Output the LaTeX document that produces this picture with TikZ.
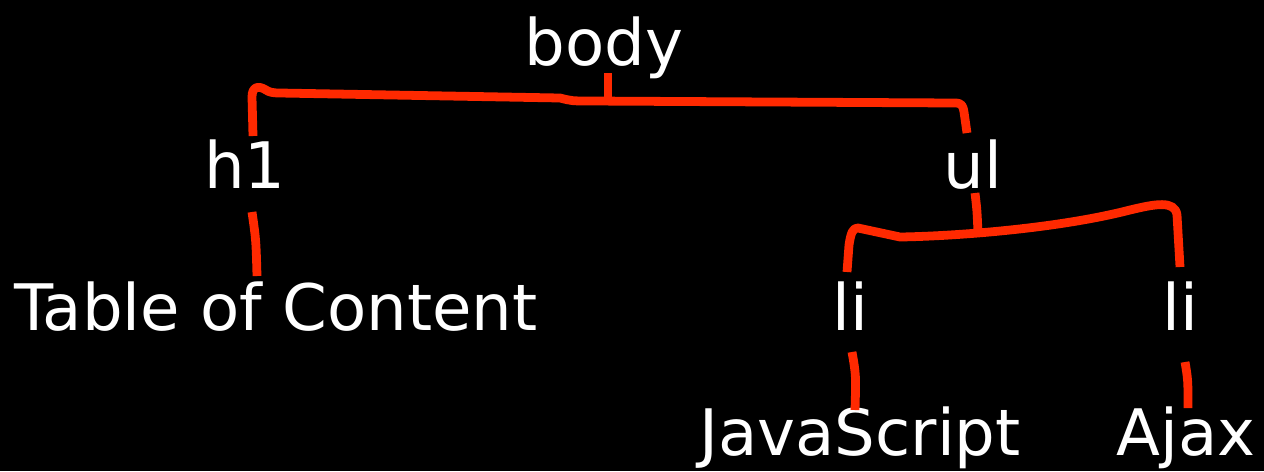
\documentclass[tikz,border=0pt]{standalone}
\usepackage{fontspec}
\setmainfont{DejaVu Sans}
\definecolor{brace}{rgb}{1,0.16,0}

\begin{document}
\begin{tikzpicture}[x=0.02cm, y=-0.02cm,
    tag/.style={text=white, inner sep=0pt, anchor=base, font=\fontsize{36.5}{44}\selectfont},
    wire/.style={brace, line width=5pt, line join=round}]
            \fill[black] (0,0) rectangle (1264,471);

            \node[tag] (body) at (604,65) {body};
            \node[tag] (hone) at (245,188) {h1};
            \node[tag] (ul) at (973,188) {ul};
            \node[tag] (toc) at (276,330) {Table of Content};
            \node[tag] (lileft) at (850,330) {li};
            \node[tag] (liright) at (1180,330) {li};
            \node[tag] (js) at (860,455) {JavaScript};
            \node[tag] (ajax) at (1186,455) {Ajax};

            \draw[wire] ([shift={(8,-52)}]hone.base) -- (252,97) .. controls (252,87) and (258,85) .. (266,90)
                .. controls (269,92) and (272,93) .. (280,93) -- (560,98) .. controls (572,101) .. (590,101)
                -- (955,103) .. controls (962,103) and (963,106) .. (964,112) -- ([shift={(-6,-55)}]ul.base);
            \draw[wire] ([shift={(4,8)}]body.base) -- (608,101);

            \draw[wire] ([shift={(-3,-58)}]lileft.base) -- (849,245) .. controls (851,232) and (853,228) .. (858,228)
                -- (900,237) .. controls (960,236) and (1060,228) .. (1130,210)
                .. controls (1155,204) and (1175,200) .. (1177,215) -- ([shift={(0,-63)}]liright.base);
            \draw[wire] ([shift={(2,5)}]ul.base) .. controls (977,210) .. (978,233);

            \draw[wire] ([shift={(7,24)}]hone.base) .. controls (256,240) .. ([shift={(-19,-54)}]toc.base);
            \draw[wire] ([shift={(2,22)}]lileft.base) .. controls (856,375) .. ([shift={(-5,-45)}]js.base);
            \draw[wire] ([shift={(5,32)}]liright.base) .. controls (1188,380) .. ([shift={(2,-47)}]ajax.base);
        \end{tikzpicture}
\end{document}
